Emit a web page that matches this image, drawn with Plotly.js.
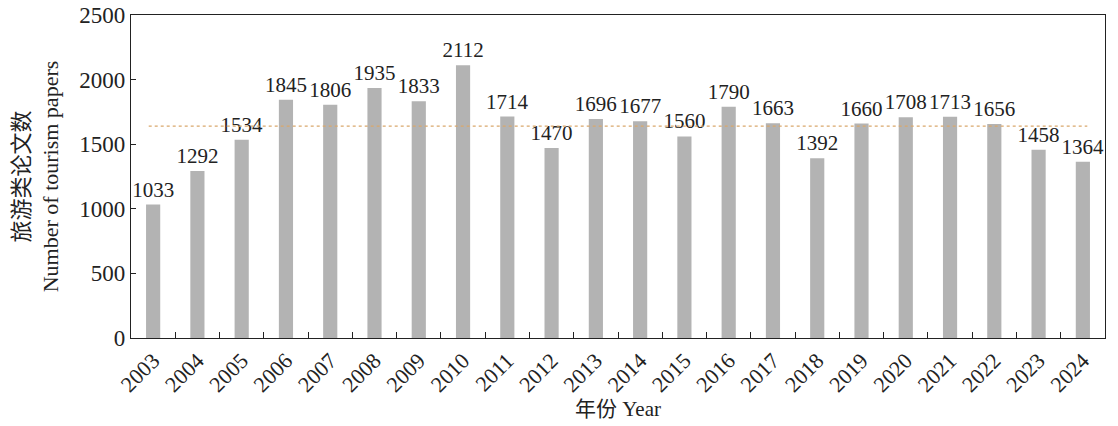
<!DOCTYPE html>
<html>
<head>
<meta charset="utf-8">
<script src="https://cdn.plot.ly/plotly-3.0.1.min.js"></script>
<style>
  html, body { margin: 0; padding: 0; background: #fff; }
  #chart { width: 1118px; height: 426px; }
</style>
</head>
<body>
<div id="chart"></div>
<script>
var years = ["2003", "2004", "2005", "2006", "2007", "2008", "2009", "2010", "2011", "2012", "2013",
  "2014", "2015", "2016", "2017", "2018", "2019", "2020", "2021", "2022", "2023", "2024"];
var papers = [1033, 1292, 1534, 1845, 1806, 1935, 1833, 2112, 1714, 1470, 1696,
  1677, 1560, 1790, 1663, 1392, 1660, 1708, 1713, 1656, 1458, 1364];
var meanLevel = 1640;
var yTicks = [0, 500, 1000, 1500, 2000, 2500];

var serif = "'Liberation Serif', 'Times New Roman', 'Noto Sans CJK SC', serif";

var layout = {
  width: 1118,
  height: 426,
  margin: { l: 131, r: 13, t: 15, b: 88 },
  paper_bgcolor: "#fff",
  plot_bgcolor: "#fff",
  showlegend: false,
  bargap: 0.68,
  font: { family: serif, color: "#222", size: 20 },
  xaxis: {
    type: "category",
    tickangle: -45,
    ticks: "inside",
    tickson: "boundaries",
    ticklen: 6,
    tickcolor: "#222",
    showline: true,
    linecolor: "#222",
    linewidth: 1.2,
    mirror: true,
    showgrid: false,
    tickfont: { family: serif, size: 22 },
    title: {
      text: "年份 Year",
      font: { family: serif, size: 21 },
      standoff: 2,
    },
  },
  yaxis: {
    range: [0, 2500],
    tickvals: yTicks,
    ticks: "inside",
    ticklen: 5,
    tickcolor: "#222",
    showline: true,
    linecolor: "#222",
    linewidth: 1.2,
    mirror: true,
    showgrid: false,
    zeroline: false,
    tickfont: { family: serif, size: 23 },
    title: {
      text: "旅游类论文数<br>Number of tourism papers",
      font: { family: serif, size: 22 },
      standoff: 14,
    },
  },
  shapes: [
    {
      type: "line",
      xref: "x",
      yref: "y",
      x0: -0.1,
      x1: 21.1,
      y0: meanLevel,
      y1: meanLevel,
      line: { color: "#d9a86c", width: 1.3, dash: "dot" },
    },
  ],
};

Plotly.newPlot(
  "chart",
  [
    {
      type: "bar",
      x: years,
      y: papers,
      marker: { color: "#b3b3b3" },
      text: papers.map(String),
      textposition: "outside",
      constraintext: "none",
      cliponaxis: false,
      textfont: { family: serif, size: 21, color: "#222" },
      outsidetextfont: { family: serif, size: 21, color: "#222" },
      hoverinfo: "x+y",
    },
  ],
  layout,
  { displayModeBar: false }
);
</script>
</body>
</html>
